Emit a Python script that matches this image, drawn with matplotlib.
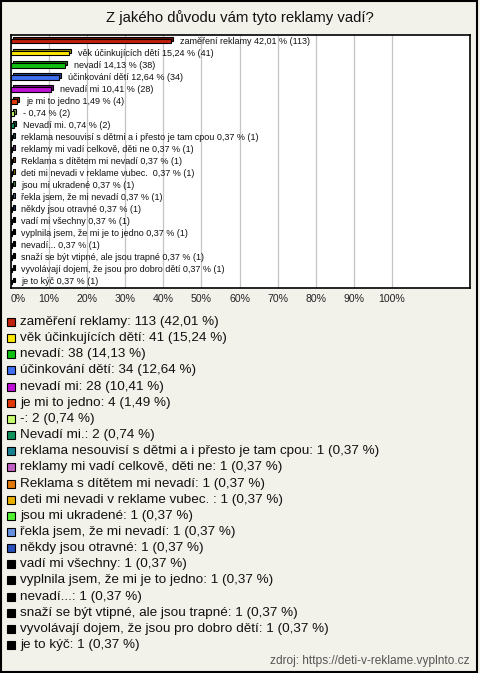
import matplotlib
matplotlib.use("Agg")
import matplotlib.pyplot as plt
from matplotlib.patches import Rectangle

plt.rcParams['font.family'] = ['Liberation Sans', 'DejaVu Sans']

categories = [
    "zaměření reklamy", "věk účinkujících dětí", "nevadí", "účinkování dětí",
    "nevadí mi", "je mi to jedno", "-", "Nevadí mi.",
    "reklama nesouvisí s dětmi a i přesto je tam cpou",
    "reklamy mi vadí celkově, děti ne", "Reklama s dítětem mi nevadí",
    "deti mi nevadi v reklame vubec. ", "jsou mi ukradené",
    "řekla jsem, že mi nevadí", "někdy jsou otravné", "vadí mi všechny",
    "vyplnila jsem, že mi je to jedno", "nevadí...",
    "snaží se být vtipné, ale jsou trapné",
    "vyvolávají dojem, že jsou pro dobro dětí", "je to kýč",
]
counts = [113, 41, 38, 34, 28, 4, 2, 2] + [1] * 13
percents = [42.01, 15.24, 14.13, 12.64, 10.41, 1.49, 0.74, 0.74] + [0.37] * 13
colors = ['#c0200c', '#ffe800', '#10c010', '#4070f0', '#c010d8', '#e03a08',
          '#c8ff70', '#10905a', '#1a7f90', '#c060c0', '#e07a08', '#e8b000',
          '#50f030', '#6890e0', '#2850b8'] + ['#000000'] * 6
xticks = list(range(0, 101, 10))


def darker(c, f=0.6):
    r, g, b = matplotlib.colors.to_rgb(c)
    return (r * f, g * f, b * f)


def fmt(v):
    return f"{v:.2f}".replace('.', ',')


bg = '#f3f2ea'
fig = plt.figure(figsize=(4.8, 6.73), dpi=100, facecolor=bg)
W, H = 480, 673

# plot area
ax = fig.add_axes([11 / W, 1 - 288 / H, 459 / W, 253 / H])
ax.set_facecolor('white')
n = len(categories)
ax.set_xlim(0, 120.5)
ax.set_ylim(n - 0.5, -0.5)

for x in xticks:
    ax.axvline(x, color='#c4c4c4', lw=0.9, zorder=0)

h = 0.4
dx, dy = 0.55, 0.17
ys = list(range(n))
ax.barh([y - dy for y in ys], percents, left=dx, height=h,
        color=[darker(c) for c in colors], edgecolor='black', lw=0.8, zorder=2)
ax.barh(ys, percents, height=h, color=colors, edgecolor='black', lw=0.8, zorder=3)

for y, cat, p, c in zip(ys, categories, percents, counts):
    ax.annotate(f"{cat} {fmt(p)} % ({c})", (p + dx, y), xytext=(5, 0),
                textcoords='offset points', va='center', ha='left',
                fontsize=6.5, color='#111111', zorder=4)

ax.set_xticks(xticks)
ax.set_xticklabels([f"{x}%" for x in xticks], fontsize=7.6, color='#222222')
ax.get_xticklabels()[0].set_ha('left')
ax.tick_params(axis='x', length=0, pad=4)
ax.set_yticks([])
for s in ax.spines.values():
    s.set_linewidth(1.2)
    s.set_color('black')

fig.text(0.5, 1 - 18 / H, "Z jakého důvodu vám tyto reklamy vadí?",
         ha='center', va='center', fontsize=10.7, color='#111111')

# legend
y0, step = 322, 16.15
for i, (cat, p, c, col) in enumerate(zip(categories, percents, counts, colors)):
    yc = y0 + i * step
    fig.patches.append(Rectangle((7 / W, 1 - (yc + 4) / H), 8 / W, 8 / H,
                                 transform=fig.transFigure, facecolor=col,
                                 edgecolor='black', lw=0.8))
    fig.text(20 / W, 1 - yc / H, f"{cat}: {c} ({fmt(p)} %)",
             ha='left', va='center', fontsize=9.7, color='#111111')

fig.text(470 / W, 1 - 661 / H, "zdroj: https://deti-v-reklame.vyplnto.cz",
         ha='right', va='center', fontsize=8.6, color='#555555')

fig.patches.append(Rectangle((1 / W, 1 / H), 476 / W, 671 / H,
                             transform=fig.transFigure, fill=False,
                             edgecolor='black', lw=1.5))

fig.savefig('out.png', dpi=100, facecolor=bg)
